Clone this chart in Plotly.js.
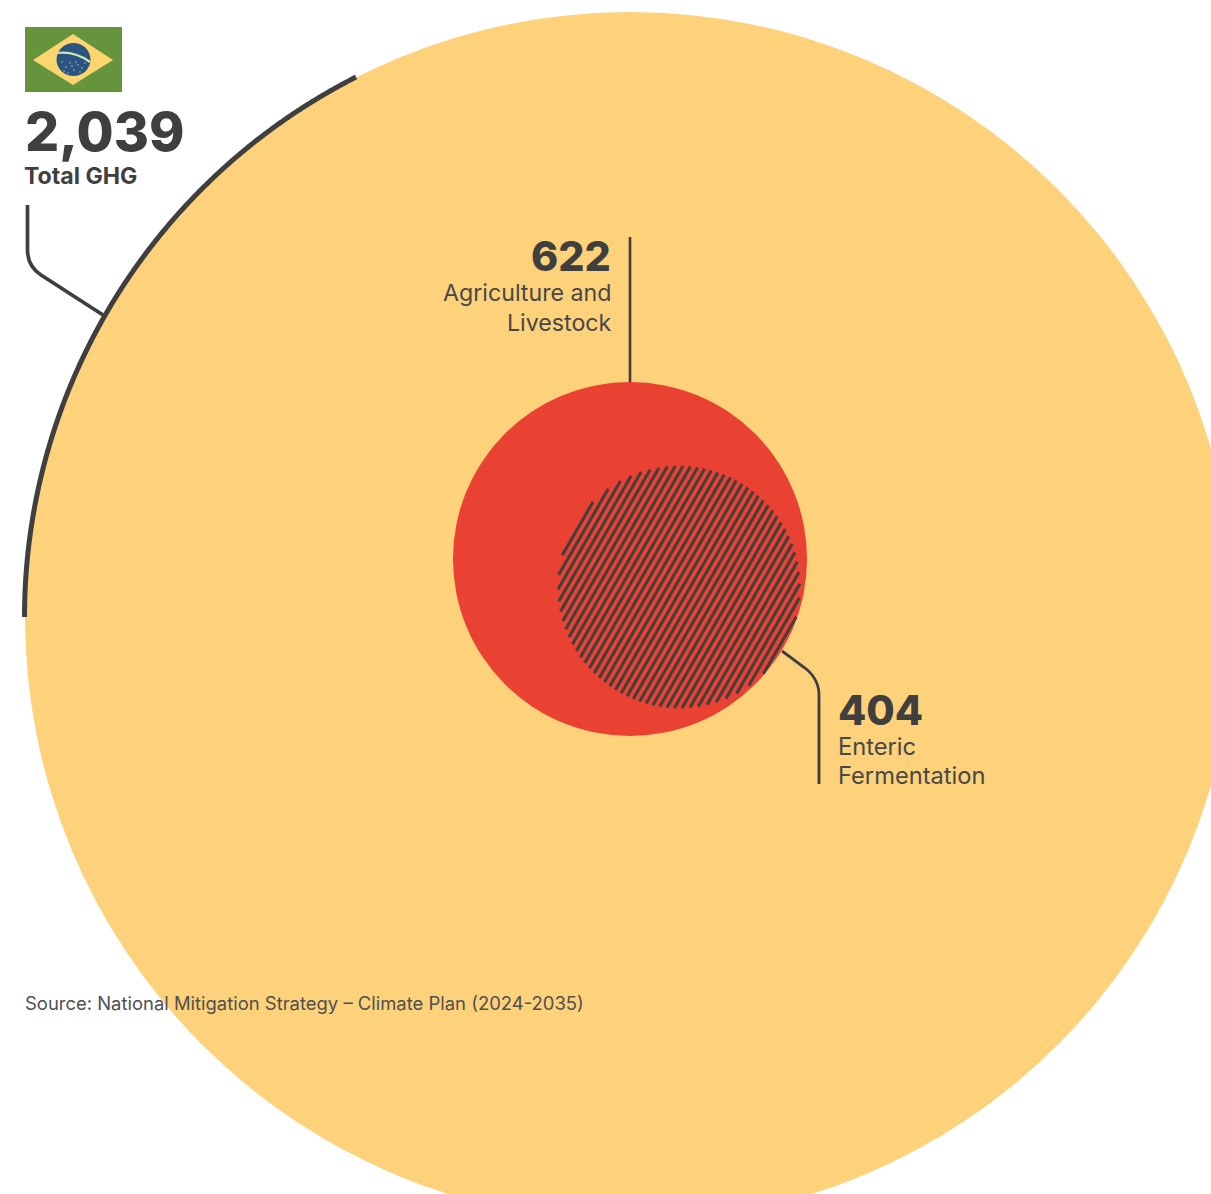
<!DOCTYPE html>
<html>
<head>
<meta charset="utf-8">
<script src="https://cdn.plot.ly/plotly-3.0.1.min.js"></script>
<style>html,body{margin:0;padding:0;background:#fff}#chart{width:1211px;height:1194px}</style>
</head>
<body>
<div id="chart"></div>
<script>
// Data
const categories = ["Total GHG", "Agriculture and Livestock", "Enteric Fermentation"];
const values = [2039, 622, 404];
const valueLabels = ["2,039", "622", "404"];
const sourceText = "Source: National Mitigation Strategy – Climate Plan (2024-2035)";

// Geometry and style, in the page-sized axes
const radiusPerUnit = [0.2967, 0.2846, 0.2995];
const centresX = [630, 630, 679];
const centresY = [617, 559, 587];
const INK = "#3f3f3f", YELLOW = "#fed17b", RED = "#e94232", FONT = "Inter, 'Noto Sans', sans-serif";
const radii = values.map((v, i) => v * radiusPerUnit[i]);

function circleShape(i, fill) {
  return {type: "circle", xref: "x", yref: "y", layer: "below",
    x0: centresX[i] - radii[i], x1: centresX[i] + radii[i],
    y0: centresY[i] - radii[i], y1: centresY[i] + radii[i],
    fillcolor: fill, line: {width: 0}};
}
function pathShape(path, color, width, fill) {
  return {type: "path", xref: "x", yref: "y", layer: "below", path,
    line: {color: color, width: width}, fillcolor: fill || "rgba(0,0,0,0)"};
}

// Outline arc on the big circle
const arcX = [], arcY = [];
const arcStart = Math.PI, arcEnd = Math.atan2(-540, -274) + 2 * Math.PI;
for (let k = 0; k <= 400; k++) {
  const a = arcStart + (arcEnd - arcStart) * k / 400, r = radii[0] + 0.5;
  arcX.push(centresX[0] + r * Math.cos(a));
  arcY.push(centresY[0] + r * Math.sin(a));
}

// Hatch of the enteric-fermentation circle
const hatchX = [], hatchY = [];
const hatchAngle = 60 * Math.PI / 180, hatchStep = 6.67;
const dx = Math.cos(hatchAngle), dy = -Math.sin(hatchAngle);
const nx = Math.sin(hatchAngle), ny = Math.cos(hatchAngle);
for (let d = -radii[2] + 4; d <= radii[2] - 1; d += hatchStep) {
  const half = Math.sqrt(Math.max(0, radii[2] * radii[2] - d * d));
  const mx = centresX[2] + nx * d, my = centresY[2] + ny * d;
  hatchX.push(mx - dx * half, mx + dx * half, null);
  hatchY.push(my - dy * half, my + dy * half, null);
}

// Flag stars (decorative specks)
const starX = [62, 66, 70, 74, 78, 82, 85, 64, 72, 80, 68, 76];
const starY = [62, 67, 63, 70, 65, 68, 63, 71, 66, 72, 73, 62];

const traces = [
  {x: arcX, y: arcY, mode: "lines", line: {color: INK, width: 5, simplify: false}, hoverinfo: "skip", showlegend: false},
  {x: hatchX, y: hatchY, mode: "lines", line: {color: INK, width: 3, simplify: false}, hoverinfo: "skip", showlegend: false},
  {x: starX, y: starY, mode: "markers", marker: {color: "#9fb9c6", size: 1.6, line: {width: 0}}, hoverinfo: "skip", showlegend: false}
];

const shapes = [
  circleShape(0, YELLOW),
  circleShape(1, RED),
  // Leaders
  pathShape("M27.5,205 L27.5,250 Q27.5,266 41,275 L103,315", INK, 3.7),
  pathShape("M630,237 L630,382", INK, 2.6),
  pathShape("M782,651 L805,668 Q819,679 819,695 L819,784", INK, 2.8),
  // Flag
  {type: "rect", xref: "x", yref: "y", layer: "below", x0: 25, x1: 122, y0: 27, y1: 92, fillcolor: "#66943c", line: {width: 0}},
  pathShape("M33,60 L73,34 L113,60 L73,85 Z", "#fcd56f", 0, "#fcd56f"),
  {type: "circle", xref: "x", yref: "y", layer: "below", x0: 56.5, x1: 90.5, y0: 43, y1: 76, fillcolor: "#2a5580", line: {width: 0}},
  pathShape("M57,53 Q75,51 90,62", "#cfe4b4", 2.2)
];

function label(text, x, y, size, weight, anchor, color) {
  return {text: text, x: x, y: y, xref: "x", yref: "y", xanchor: anchor || "left", yanchor: "middle",
    showarrow: false, font: {family: FONT, size: size, color: color || INK, weight: weight}};
}
const annotations = [
  label(valueLabels[0], 22.5, 131, 53.7, 800),
  label(categories[0], 22, 176, 23.1, 700),
  label(valueLabels[1], 613, 256, 41.2, 800, "right"),
  label("Agriculture and", 613, 293, 23.2, 400, "right", "#484848"),
  label("Livestock", 613.5, 323, 23.2, 400, "right", "#484848"),
  label(valueLabels[2], 835.5, 710, 41.2, 800),
  label("Enteric", 835.5, 746.6, 23.7, 400, "left", "#484848"),
  label("Fermentation", 835.5, 775.4, 23.7, 400, "left", "#484848"),
  label(sourceText, 23, 1003, 18.45, 400, "left", "#505050")
];

const axis = {visible: false, showgrid: false, zeroline: false, fixedrange: true};
Plotly.newPlot("chart", traces, {
  width: 1211, height: 1194,
  margin: {l: 0, r: 0, t: 0, b: 0, pad: 0},
  paper_bgcolor: "#ffffff", plot_bgcolor: "rgba(0,0,0,0)",
  showlegend: false,
  xaxis: Object.assign({range: [0, 1211]}, axis),
  yaxis: Object.assign({range: [1194, 0]}, axis),
  shapes: shapes, annotations: annotations
}, {displayModeBar: false, responsive: false});
</script>
</body>
</html>
